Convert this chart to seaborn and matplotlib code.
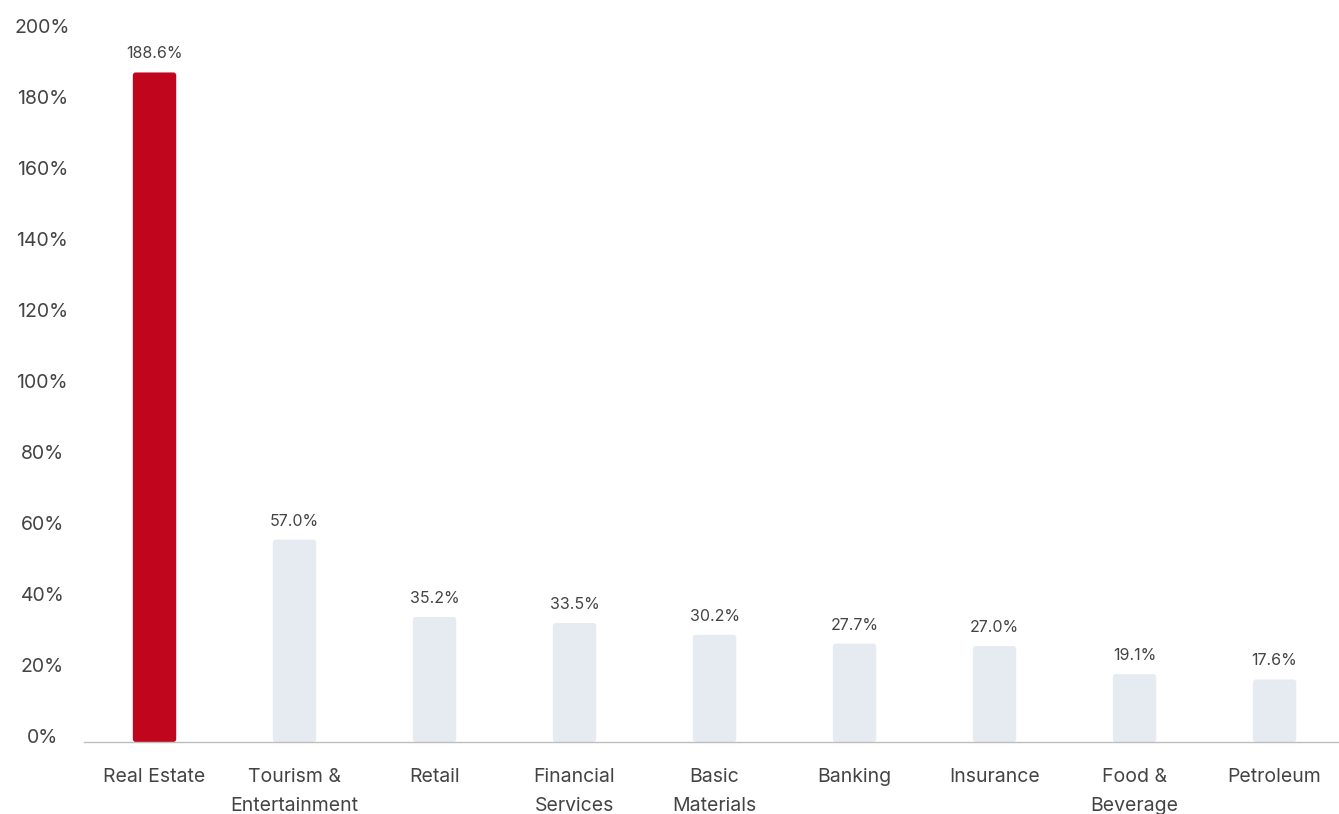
import numpy as np
import pandas as pd
import matplotlib.pyplot as plt
import matplotlib.transforms as mtransforms
from matplotlib.patches import FancyBboxPatch
import seaborn as sns

# ---- data ----
sectors = ["Real Estate", "Tourism &\nEntertainment", "Retail", "Financial\nServices",
           "Basic\nMaterials", "Banking", "Insurance", "Food &\nBeverage", "Petroleum"]
growth = [188.6, 57.0, 35.2, 33.5, 30.2, 27.7, 27.0, 19.1, 17.6]
bar_colors = ["#C0061C"] + ["#E6EBF2"] * 8

sns.set_theme(style="white")
plt.rcParams['font.family'] = ['Inter', 'DejaVu Sans']
text_col = "#444444"

df = pd.DataFrame({"sector": sectors, "growth": growth})

fig = plt.figure(figsize=(13.39, 8.14), dpi=100)
ax = fig.add_axes([0.0627, 0.0885, 0.9373, 0.8722])

sns.barplot(data=df, x="sector", y="growth", hue="sector", palette=bar_colors,
            width=0.31, legend=False, ax=ax, saturation=1)

# 圆角柱子
for p in list(ax.patches):
    x0, y0 = p.get_x(), p.get_y()
    w, h = p.get_width(), p.get_height()
    fc = p.get_facecolor()
    p.remove()
    ax.add_patch(FancyBboxPatch((x0, y0), w, h,
                                boxstyle="round,pad=0,rounding_size=0.02",
                                mutation_aspect=42, facecolor=fc, edgecolor="none"))

# 数值标签
for i, v in enumerate(growth):
    ax.annotate(f"{v:.1f}%", (i, v), xytext=(0, 8), textcoords="offset points",
                ha="center", va="bottom", fontsize=11.5, color=text_col)

ax.set_xlim(-0.504, 8.46)
ax.set_ylim(0, 200)
ax.set_yticks(np.arange(0, 201, 20))
ax.set_yticklabels([f"{t}%" for t in range(0, 201, 20)])
ax.set_xlabel("")
ax.set_ylabel("")

for s in ["top", "right", "left"]:
    ax.spines[s].set_visible(False)
ax.spines["bottom"].set_color("#BDBDBD")
ax.spines["bottom"].set_linewidth(1.0)

ax.tick_params(axis="x", length=0, pad=19, labelsize=14, labelcolor=text_col)
ax.tick_params(axis="y", length=0, pad=30, labelsize=14, labelcolor=text_col)
for lab in ax.get_xticklabels():
    lab.set_linespacing(1.75)

offset = mtransforms.ScaledTranslation(0, 6 / 100, fig.dpi_scale_trans)
for lab in ax.get_yticklabels():
    lab.set_horizontalalignment("center")
    lab.set_transform(lab.get_transform() + offset)

fig.savefig("out.png", dpi=100)
